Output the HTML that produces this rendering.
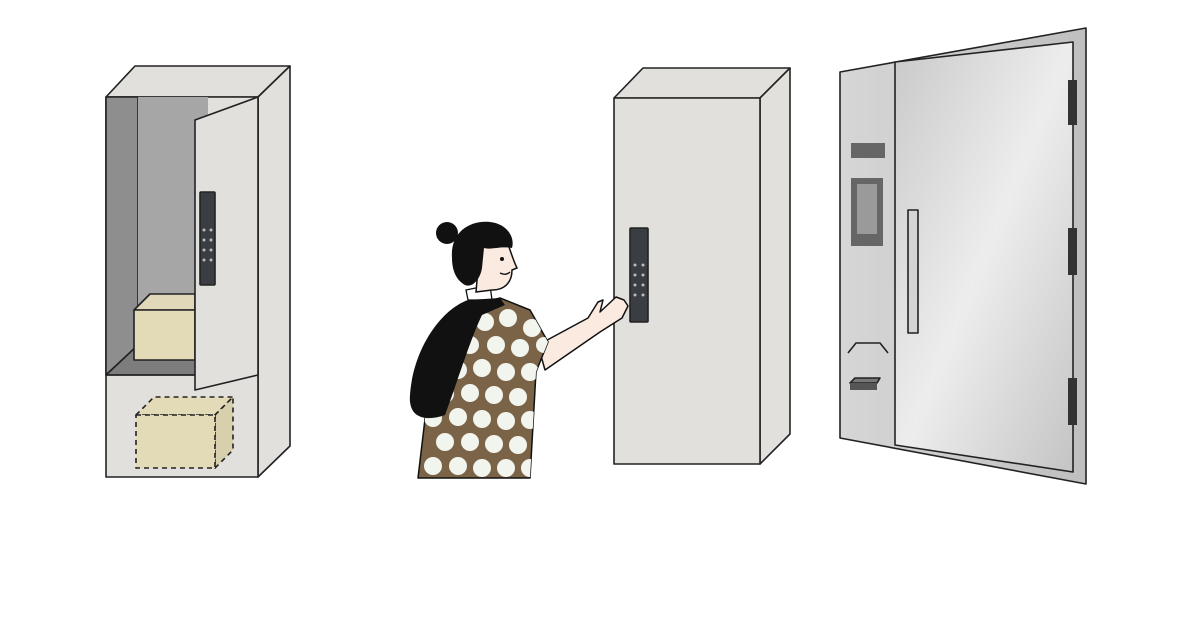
<!DOCTYPE html>
<html><head><meta charset="utf-8"><style>html,body{margin:0;padding:0;background:#fff;width:1190px;height:637px;overflow:hidden}</style></head>
<body>
<svg width="1190" height="637" viewBox="0 0 1190 637" xmlns="http://www.w3.org/2000/svg">
<defs>
<linearGradient id="steel" x1="0" y1="0" x2="1" y2="1">
<stop offset="0" stop-color="#c9c9c9"/><stop offset="0.5" stop-color="#ededed"/><stop offset="1" stop-color="#c4c4c4"/></linearGradient>
<linearGradient id="steel2" x1="0" y1="0" x2="1" y2="0">
<stop offset="0" stop-color="#d6d6d6"/><stop offset="1" stop-color="#bfbfbf"/></linearGradient>
<clipPath id="dress"><path d="M418,478 L432,360 L455,310 L500,298 L530,310 L548,342 L536,372 L530,478 Z"/></clipPath>
</defs>
<g stroke="#222" stroke-width="1.6" stroke-linejoin="round">
<polygon points="106,97 135,66 290,66 258,97" fill="#e2e0dc"/>
<polygon points="258,97 290,66 290,446 258,477" fill="#e2e0dc"/>
<rect x="106" y="97" width="152" height="380" fill="#e2e0dc"/>
<polygon points="106,97 138,97 138,345 106,375" fill="#8e8e8e"/>
<rect x="138" y="97" width="70" height="248" fill="#a6a6a6" stroke="none"/>
<polygon points="106,375 138,345 210,345 210,375" fill="#7d7d7d"/>
<line x1="106" y1="375" x2="258" y2="375"/>
<polygon points="134,310 150,294 195,294 195,310" fill="#e0d8b8"/>
<rect x="134" y="310" width="61" height="50" fill="#e3dab8"/>
<polygon points="195,120 258,97 258,375 195,390" fill="#e2e0dc"/>
<rect x="200" y="192" width="15" height="93" rx="1" fill="#3a3e42"/>
<g stroke-dasharray="5,4">
<polygon points="136,415 154,397 233,397 215,415" fill="#e3dab8"/>
<polygon points="215,415 233,397 233,450 215,468" fill="#d8cfac"/>
<rect x="136" y="415" width="79" height="53" fill="#e3dab8"/>
</g>
<polygon points="614,98 643,68 790,68 760,98" fill="#e2e0dc"/>
<polygon points="760,98 790,68 790,434 760,464" fill="#e2e0dc"/>
<rect x="614" y="98" width="146" height="366" fill="#e2e0dc"/>
<rect x="630" y="228" width="18" height="94" rx="1" fill="#3a3e42"/>
<polygon points="840,72 1086,28 1086,484 840,438" fill="url(#steel2)"/>
<polygon points="895,62 1073,42 1073,472 895,445" fill="url(#steel)"/>
<rect x="908" y="210" width="10" height="123" fill="#d4d4d4"/>
<rect x="851" y="143" width="34" height="15" fill="#666" stroke="none"/>
<rect x="851" y="178" width="32" height="68" fill="#666" stroke="none"/>
<rect x="857" y="184" width="20" height="50" fill="#9a9a9a" stroke="none"/>
<polyline points="848,353 856,343 880,343 888,353" fill="none"/>
<polygon points="850,383 855,378 880,378 877,383" fill="#777"/>
<rect x="850" y="383" width="27" height="7" fill="#555" stroke="none"/>
</g>
<g fill="#333">
<rect x="1068" y="80" width="9" height="45"/><rect x="1068" y="228" width="9" height="47"/><rect x="1068" y="378" width="9" height="47"/>
</g>
<g fill="#bbb">
<circle cx="204" cy="230" r="1.5"/><circle cx="211" cy="230" r="1.5"/><circle cx="204" cy="240" r="1.5"/><circle cx="211" cy="240" r="1.5"/><circle cx="204" cy="250" r="1.5"/><circle cx="211" cy="250" r="1.5"/><circle cx="204" cy="260" r="1.5"/><circle cx="211" cy="260" r="1.5"/>
<circle cx="635" cy="265" r="1.5"/><circle cx="643" cy="265" r="1.5"/><circle cx="635" cy="275" r="1.5"/><circle cx="643" cy="275" r="1.5"/><circle cx="635" cy="285" r="1.5"/><circle cx="643" cy="285" r="1.5"/><circle cx="635" cy="295" r="1.5"/><circle cx="643" cy="295" r="1.5"/>
</g>
<!-- Person -->
<g stroke="#111" stroke-width="1.5" stroke-linejoin="round">
<path d="M538,345 L588,318 L598,302 L603,300 L600,312 L616,297 L624,300 L628,306 L622,318 L600,332 L545,370 Z" fill="#fbeae0"/>
<path d="M418,478 L432,360 L455,310 L500,298 L530,310 L548,342 L536,372 L530,478 Z" fill="#7b6347"/>
</g>
<g fill="#f2f4ee" clip-path="url(#dress)">
<circle cx="485" cy="322" r="9"/><circle cx="508" cy="318" r="9"/><circle cx="532" cy="328" r="9"/>
<circle cx="470" cy="345" r="9"/><circle cx="496" cy="345" r="9"/><circle cx="520" cy="348" r="9"/><circle cx="544" cy="345" r="8"/>
<circle cx="458" cy="370" r="9"/><circle cx="482" cy="368" r="9"/><circle cx="506" cy="372" r="9"/><circle cx="530" cy="372" r="9"/>
<circle cx="445" cy="394" r="9"/><circle cx="470" cy="393" r="9"/><circle cx="494" cy="395" r="9"/><circle cx="518" cy="397" r="9"/>
<circle cx="433" cy="418" r="9"/><circle cx="458" cy="417" r="9"/><circle cx="482" cy="419" r="9"/><circle cx="506" cy="421" r="9"/><circle cx="530" cy="420" r="9"/>
<circle cx="445" cy="442" r="9"/><circle cx="470" cy="442" r="9"/><circle cx="494" cy="444" r="9"/><circle cx="518" cy="445" r="9"/>
<circle cx="433" cy="466" r="9"/><circle cx="458" cy="466" r="9"/><circle cx="482" cy="468" r="9"/><circle cx="506" cy="468" r="9"/><circle cx="530" cy="468" r="9"/>
</g>
<path d="M466,290 L468,300 L492,300 L490,285 Z" fill="#fff" stroke="#111" stroke-width="1.3"/>
<path d="M468,300 C440,310 413,350 410,395 C408,418 425,422 445,415 C458,380 470,340 482,315 L505,305 L500,298 Z" fill="#111"/>
<circle cx="447" cy="233" r="11" fill="#111"/>
<path d="M480,246 L508,244 C512,256 514,262 517,268 L512,270 C512,282 505,290 492,290 L476,292 Z" fill="#fbeae0" stroke="#111" stroke-width="1.5"/>
<path d="M452,258 C450,232 470,220 490,222 C508,224 515,238 512,248 C500,246 492,250 484,248 L482,268 C480,280 472,288 465,285 C456,280 452,270 452,258 Z" fill="#111"/>
<circle cx="502" cy="259" r="2" fill="#111"/>
<path d="M500,273 Q506,276 510,272" fill="none" stroke="#111" stroke-width="1.3"/>
</svg>
</body></html>
